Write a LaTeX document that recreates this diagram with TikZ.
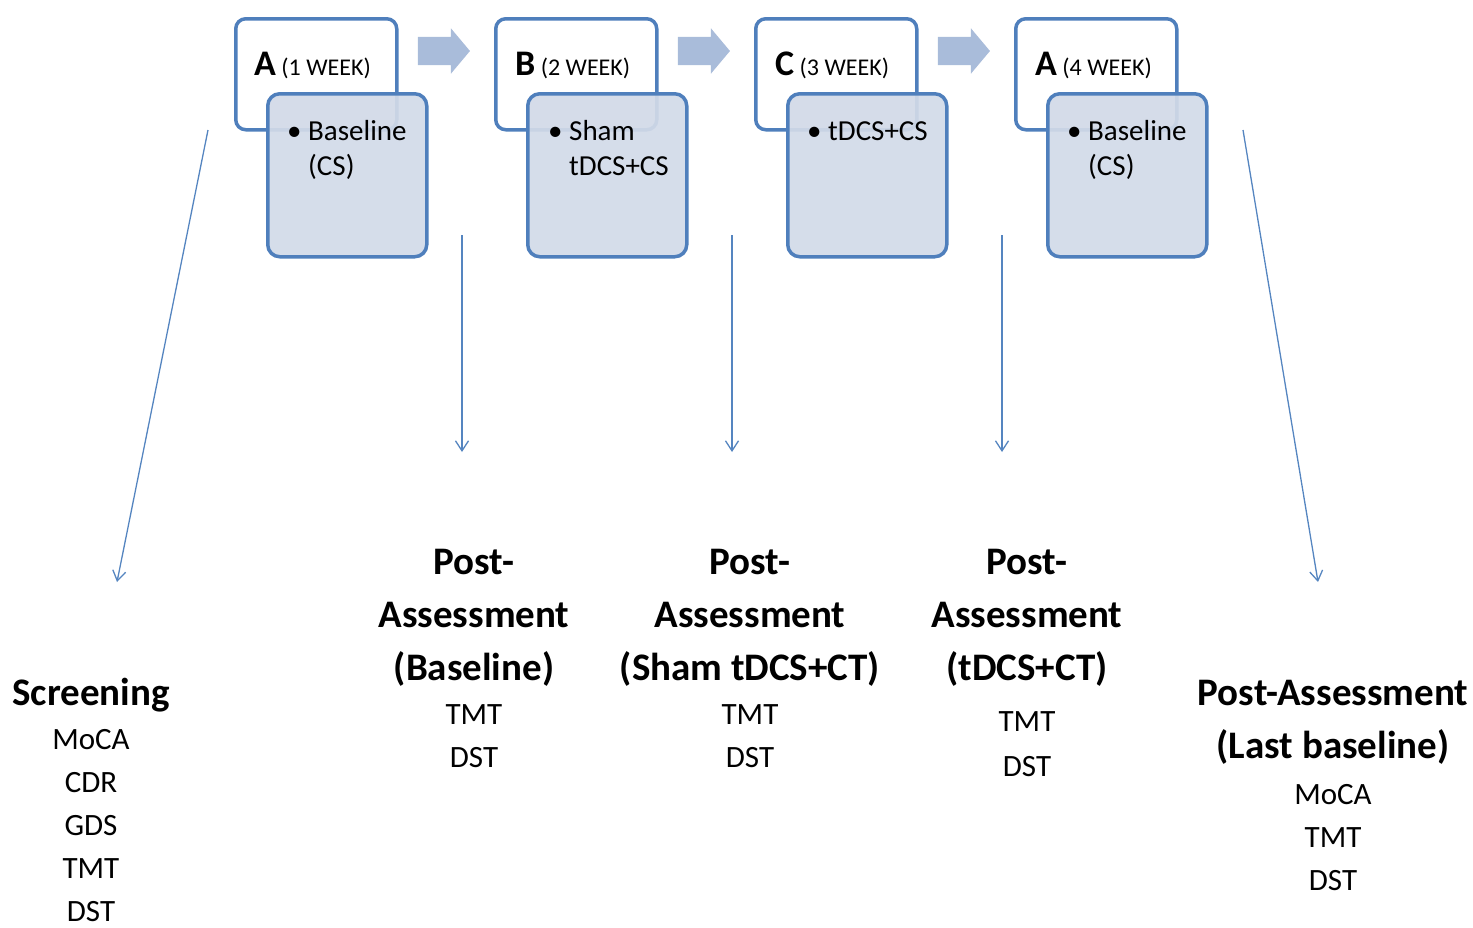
\documentclass[tikz,border=0pt]{standalone}
\usepackage{fontspec}
\setmainfont{Carlito}
\usepackage{tikz}
\usetikzlibrary{arrows.meta,positioning,shapes.arrows}
\definecolor{frame}{HTML}{4F7FBC}
\definecolor{pale}{HTML}{D2DAE8}
\definecolor{blockarrow}{HTML}{A9BCDA}
\definecolor{link}{HTML}{5585C0}

\begin{document}
\begin{tikzpicture}[x=1pt,y=-1pt,
  phase/.style={draw=frame,fill=white,line width=3.5pt,rounded corners=10pt,minimum width=161pt,minimum height=111pt,inner sep=0pt,anchor=north west},
  task/.style={draw=frame,fill=pale,fill opacity=0.93,line width=3.5pt,rounded corners=12pt,minimum width=159pt,minimum height=163pt,inner sep=0pt,anchor=north west},
  tag/.style={anchor=base west,inner sep=0pt,font=\fontsize{36}{40}\selectfont\bfseries},
  item/.style={anchor=base west,inner sep=0pt,align=left,font=\fontsize{29}{35}\selectfont},
  move/.style={single arrow,fill=blockarrow,draw=none,minimum height=52pt,inner xsep=0pt,inner ysep=14pt,single arrow head extend=8.5pt,single arrow tip angle=100},
  head/.style={anchor=base,inner sep=0pt,align=center,font=\fontsize{39}{53}\selectfont\bfseries},
  tests/.style={anchor=base,inner sep=0pt,align=center,font=\fontsize{31}{43}\selectfont},
  arr/.style={-{Straight Barb[length=10pt,width=13pt,line width=1.3pt]},line width=1.3pt,color=link}]
  \useasboundingbox (0,0) rectangle (1473,927);
  \newcommand{\wk}[1]{{\mdseries\fontsize{24}{28}\selectfont\ (#1 WEEK)}}
  \newcommand{\bul}{\textbullet\ }
  \newcommand{\ind}{\hphantom{\textbullet\ }}
  \node[phase] (p1) at (234,17) {};
  \node[phase] (p2) at (494,17) {};
  \node[phase] (p3) at (754,17) {};
  \node[phase] (p4) at (1014,17) {};
  \node[task] (t1) at (266,92) {};
  \node[task] (t2) at (526,92) {};
  \node[task] (t3) at (786,92) {};
  \node[task] (t4) at (1046,92) {};
  \node[tag] (l1) at (254,75) {A\wk{1}};
  \node[tag] (l2) at (515,75) {B\wk{2}};
  \node[tag] (l3) at (775,75) {C\wk{3}};
  \node[tag] (l4) at (1035,75) {A\wk{4}};
  \node[item] (i1) at (287,175) {\bul Baseline\\\ind(CS)};
  \node[item] (i2) at (548,175) {\bul Sham\\\ind tDCS+CS};
  \node[item] (i3) at (807,140) {\bul tDCS+CS};
  \node[item] (i4) at (1067,175) {\bul Baseline\\\ind(CS)};
  \node[move] (m1) at (438,51) {};
  \node[move] (m2) at (698,51) {};
  \node[move] (m3) at (958,51) {};
  \node[head] (h0) at (91,705) {Screening};
  \node[tests] (r0) at (91,921) {MoCA\\CDR\\GDS\\TMT\\DST};
  \node[head] (h1) at (474,680) {Post-\\Assessment\\(Baseline)};
  \node[tests] (r1) at (474,767) {TMT\\DST};
  \node[head] (h2) at (750,680) {Post-\\Assessment\\(Sham tDCS+CT)};
  \node[tests] (r2) at (750,767) {TMT\\DST};
  \node[head] (h3) at (1027,680) {Post-\\Assessment\\(tDCS+CT)};
  \node[tests,font=\fontsize{31}{45}\selectfont] (r3) at (1027,776) {TMT\\DST};
  \node[head] (h4) at (1333,758) {Post-Assessment\\(Last baseline)};
  \node[tests] (r4) at (1333,890) {MoCA\\TMT\\DST};
  \coordinate (s0) at (208,130);  \coordinate (e0) at (117,582);
  \coordinate (s1) at (462,235);  \coordinate (e1) at (462,452);
  \coordinate (s2) at (732,235);  \coordinate (e2) at (732,452);
  \coordinate (s3) at (1002,235); \coordinate (e3) at (1002,452);
  \coordinate (s4) at (1243,130); \coordinate (e4) at (1318,582);
  \foreach \i in {0,...,4} \draw[arr] (s\i) -- (e\i);
\end{tikzpicture}
\end{document}
